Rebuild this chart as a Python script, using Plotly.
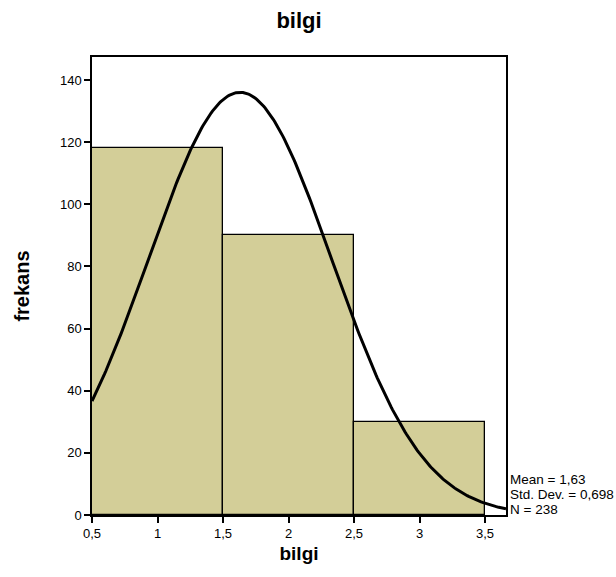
import numpy as np
import plotly.graph_objects as go

bin_centers = [1.0, 2.0, 3.0]
counts = [118, 90, 30]
mean_val = 1.63
std_val = 0.698
n_val = 238
x_ticks = [0.5, 1, 1.5, 2, 2.5, 3, 3.5]
x_tick_labels = ["0,5", "1", "1,5", "2", "2,5", "3", "3,5"]
y_ticks = [0, 20, 40, 60, 80, 100, 120, 140]
stat_lines = [
    "Mean = " + f"{mean_val:.2f}".replace(".", ","),
    "Std. Dev. = " + f"{std_val:.3f}".replace(".", ","),
    "N = " + str(n_val),
]

x_range = [0.5, 3.66]
y_range = [0, 147.4]

xs = np.linspace(x_range[0], x_range[1], 300)
ys = n_val * 1.0 / (std_val * np.sqrt(2 * np.pi)) * np.exp(-0.5 * ((xs - mean_val) / std_val) ** 2)

fig = go.Figure()
fig.add_trace(go.Bar(
    x=bin_centers, y=counts, width=1.0,
    marker=dict(color="rgb(211,206,152)", line=dict(color="black", width=1.3)),
    showlegend=False, hoverinfo="skip",
))
fig.add_trace(go.Scatter(
    x=xs, y=ys, mode="lines",
    line=dict(color="black", width=3), showlegend=False, hoverinfo="skip",
))

font_family = "Liberation Sans, Arial, sans-serif"
W, H = 616, 577
L, R, T, B = 92, 110, 57, 62
fig.update_layout(
    width=W, height=H,
    margin=dict(l=L, r=R, t=T, b=B),
    paper_bgcolor="white", plot_bgcolor="white",
    font=dict(family=font_family, size=13, color="black"),
    title=dict(text="<b>bilgi</b>", x=(L + (W - L - R) / 2) / W, xanchor="center",
               y=1 - 20 / H, yanchor="middle",
               font=dict(size=22, family=font_family, color="black")),
    bargap=0,
)
fig.update_xaxes(
    range=x_range, tickmode="array", tickvals=x_ticks, ticktext=x_tick_labels,
    ticks="outside", ticklen=6, tickwidth=1.5, tickcolor="black",
    showline=True, linecolor="black", linewidth=1.5, mirror=True,
    showgrid=False, zeroline=False,
    title=dict(text="<b>bilgi</b>", font=dict(size=19, family=font_family), standoff=6),
    tickfont=dict(size=13),
)
fig.update_yaxes(
    range=y_range, tickmode="array", tickvals=y_ticks,
    ticks="outside", ticklen=6, tickwidth=1.5, tickcolor="black",
    showline=True, linecolor="black", linewidth=1.5, mirror=True,
    showgrid=False, zeroline=False,
    title=dict(text="<b>frekans</b>", font=dict(size=20, family=font_family), standoff=25),
    tickfont=dict(size=13),
)
for i, line in enumerate(stat_lines):
    yc = 479 + 15 * i
    fig.add_annotation(
        xref="paper", yref="paper", x=1, y=1 - (yc - T) / (H - T - B),
        xanchor="left", yanchor="middle", xshift=2, align="left", showarrow=False,
        text=line, font=dict(size=13.5, family=font_family, color="black"),
    )
fig.write_html("out.html")
